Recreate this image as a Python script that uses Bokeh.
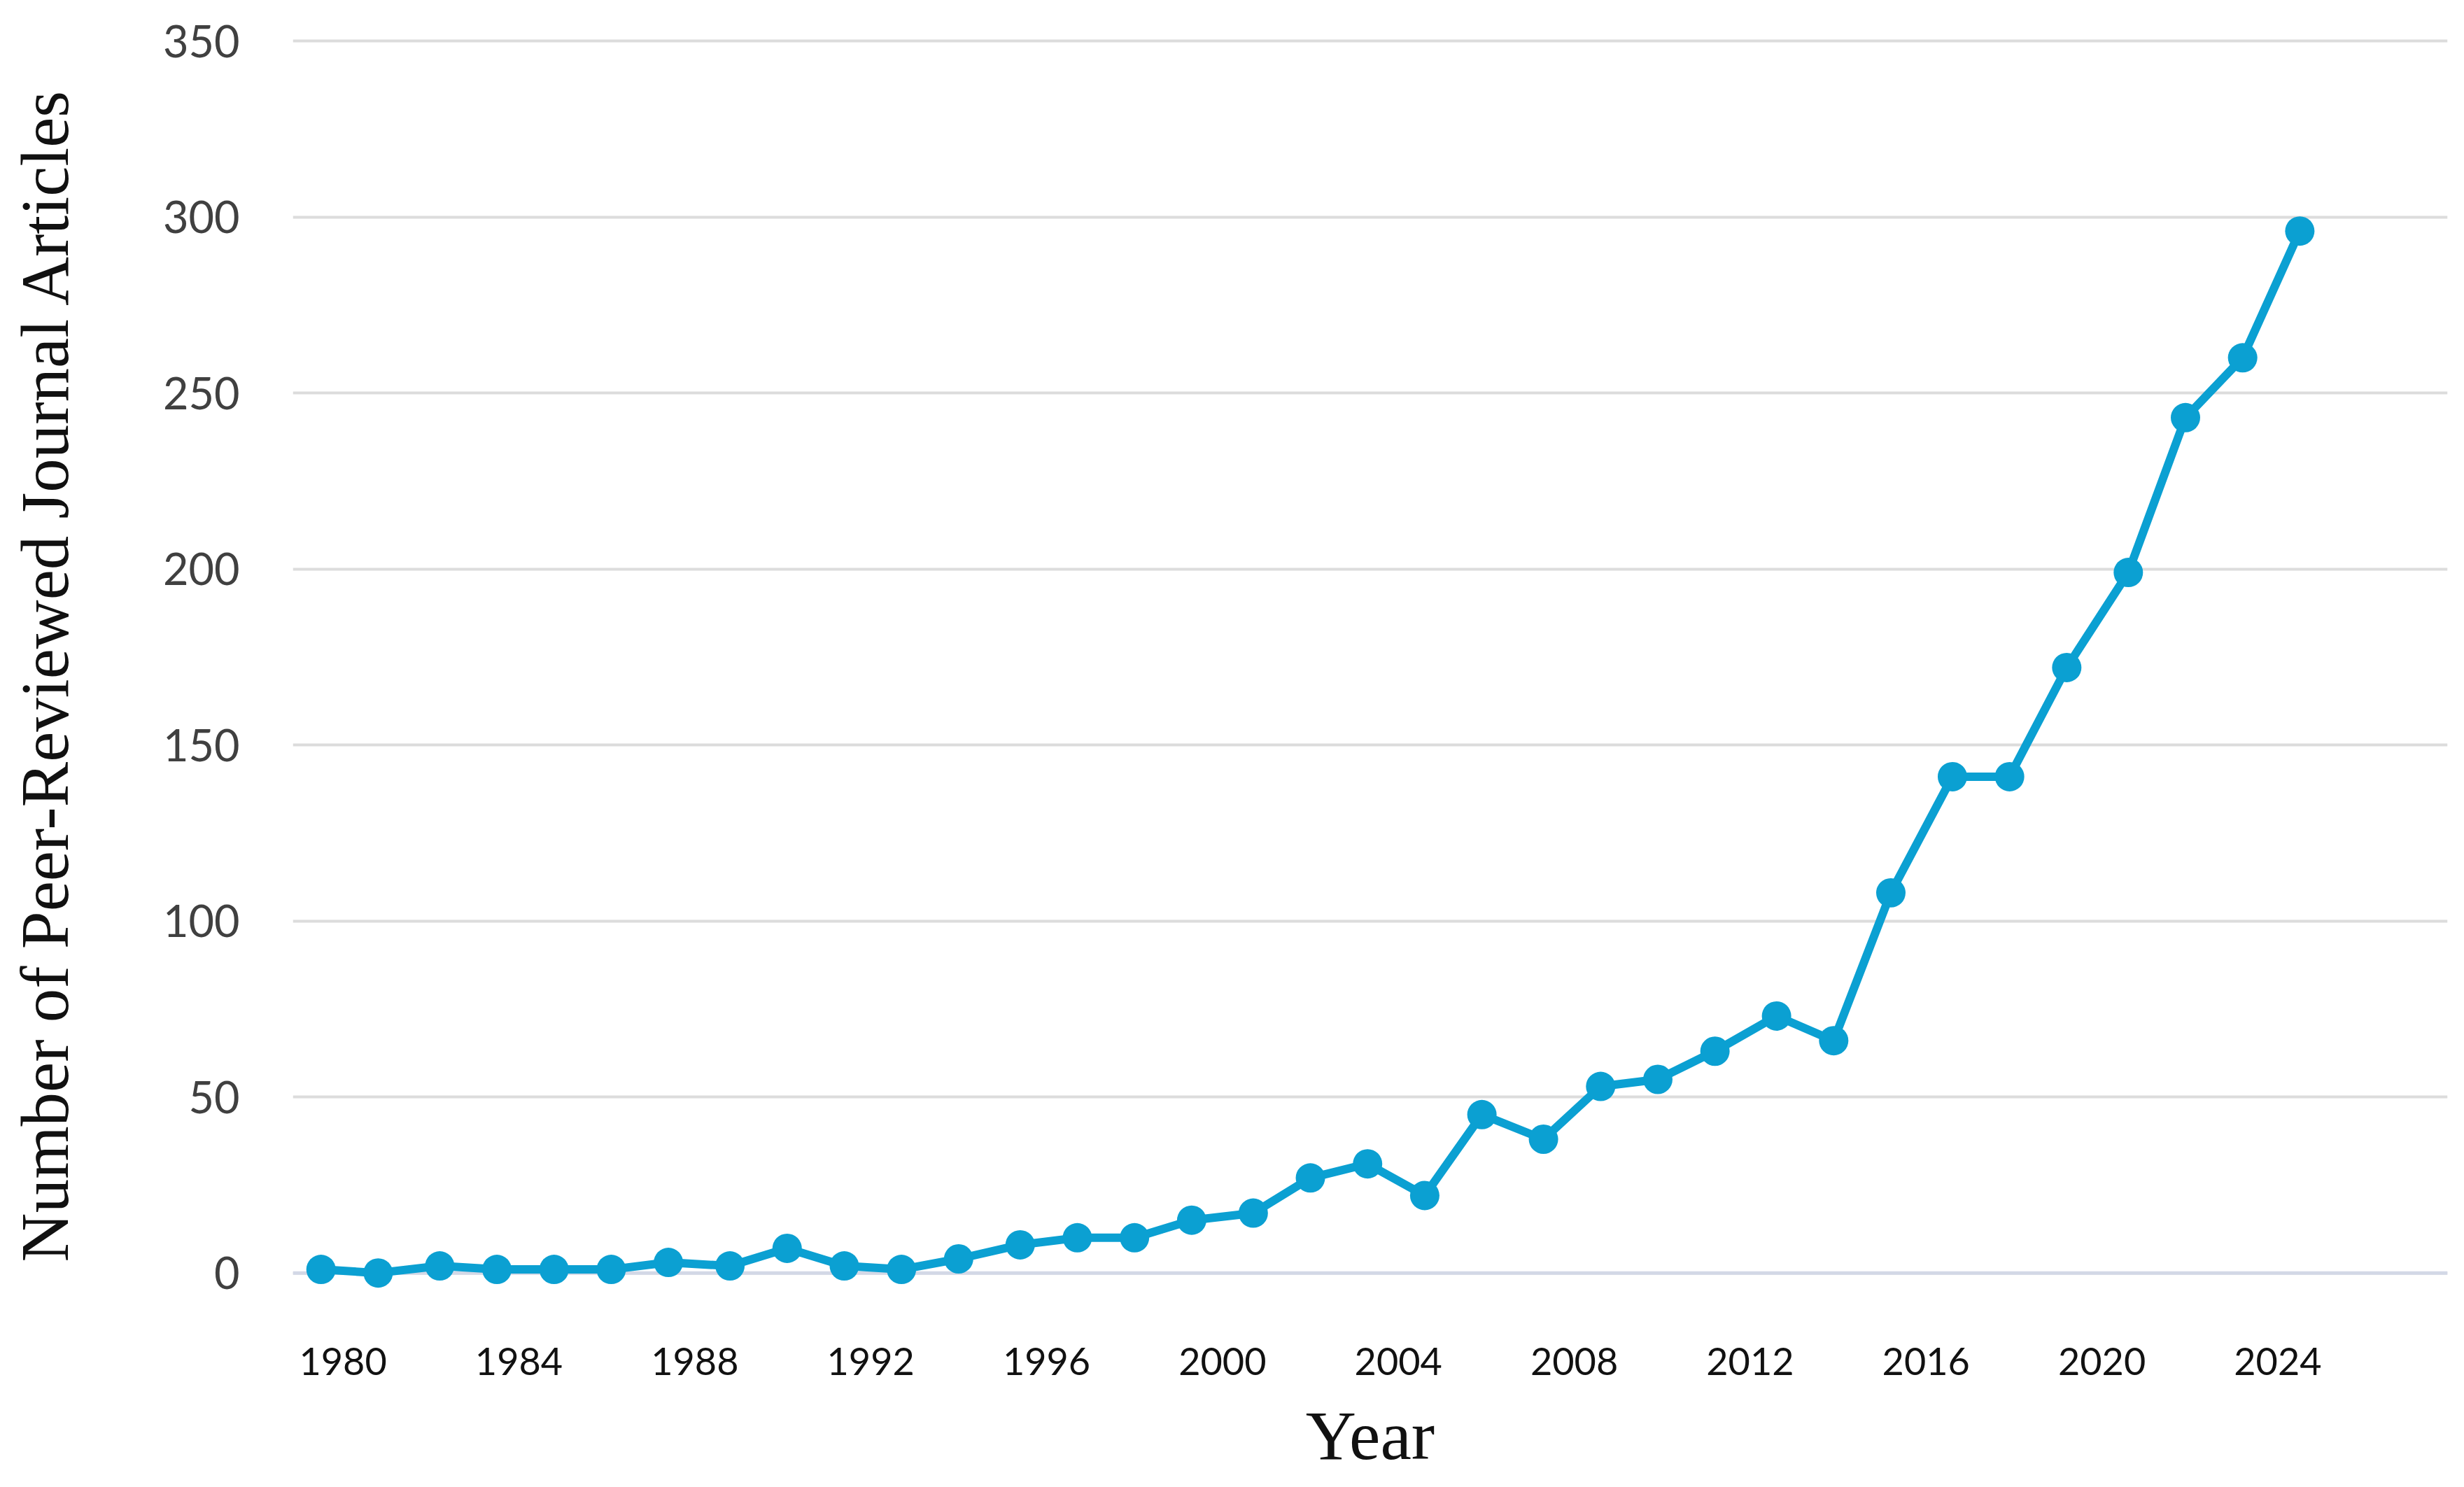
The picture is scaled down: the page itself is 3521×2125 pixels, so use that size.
from bokeh.plotting import figure
from bokeh.models import FixedTicker, Range1d, Span, ColumnDataSource
from bokeh.embed import file_html
from bokeh.resources import INLINE

# Data (x positions in year units of the drawn axis)
point_years = [1979.5, 1980.8, 1982.2, 1983.5, 1984.8, 1986.1, 1987.4, 1988.8,
               1990.1, 1991.4, 1992.7, 1994.0, 1995.4, 1996.7, 1998.0, 1999.3,
               2000.7, 2002.0, 2003.3, 2004.6, 2005.9, 2007.3, 2008.6, 2009.9,
               2011.2, 2012.6, 2013.9, 2015.2, 2016.6, 2017.9, 2019.2, 2020.6,
               2021.9, 2023.2, 2024.5]
articles = [1, 0, 2, 1, 1, 1, 3, 2, 7, 2, 1, 4, 8, 10, 10, 15, 17, 27, 31, 22,
            45, 38, 53, 55, 63, 73, 66, 108, 141, 141, 172, 199, 243, 260, 296]
x_tick_years = [1980, 1984, 1988, 1992, 1996, 2000, 2004, 2008, 2012, 2016, 2020, 2024]
y_ticks = [0, 50, 100, 150, 200, 250, 300, 350]

src = ColumnDataSource(dict(x=point_years, y=articles))

p = figure(width=3505, height=2109, output_backend="svg", toolbar_location=None,
           x_range=Range1d(1978.86, 2027.86), y_range=Range1d(-12, 352),
           min_border_left=418, min_border_right=8, min_border_top=48,
           min_border_bottom=230)
p.outline_line_color = None
p.background_fill_color = "white"

line_color = "#0BA0D2"
p.line("x", "y", source=src, line_color=line_color, line_width=12)
p.scatter("x", "y", source=src, size=42, fill_color=line_color, line_color=None)

# axes
p.xaxis.ticker = FixedTicker(ticks=x_tick_years)
p.yaxis.ticker = FixedTicker(ticks=y_ticks)
for ax in (p.xaxis[0], p.yaxis[0]):
    ax.axis_line_color = None
    ax.major_tick_line_color = None
    ax.minor_tick_line_color = None
    ax.major_tick_out = 0
    ax.major_tick_in = 0
    ax.minor_tick_out = 0

p.xaxis.major_label_text_font = "Lato"
p.xaxis.major_label_text_font_size = "54px"
p.xaxis.major_label_text_color = "#111111"
p.xaxis.major_label_standoff = 46
p.xaxis.axis_label = "Year"
p.xaxis.axis_label_text_font = "Liberation Serif"
p.xaxis.axis_label_text_font_style = "normal"
p.xaxis.axis_label_text_font_size = "100px"
p.xaxis.axis_label_text_color = "#111111"
p.xaxis.axis_label_standoff = 28

p.yaxis.major_label_text_font = "Lato"
p.yaxis.major_label_text_font_size = "63px"
p.yaxis.major_label_text_color = "#404040"
p.yaxis.major_label_standoff = 76
p.yaxis.axis_label = "Number of Peer-Reviewed Journal Articles"
p.yaxis.axis_label_text_font = "Liberation Serif"
p.yaxis.axis_label_text_font_style = "normal"
p.yaxis.axis_label_text_font_size = "97px"
p.yaxis.axis_label_text_color = "#111111"
p.yaxis.axis_label_standoff = 112

p.xgrid.grid_line_color = None
p.ygrid.grid_line_color = "#DCDCDC"
p.ygrid.grid_line_width = 4

zero = Span(location=0, dimension="width", line_color="#D3D8E6", line_width=5,
            level="underlay")
p.add_layout(zero)

open("out.html", "w").write(file_html(p, INLINE))
